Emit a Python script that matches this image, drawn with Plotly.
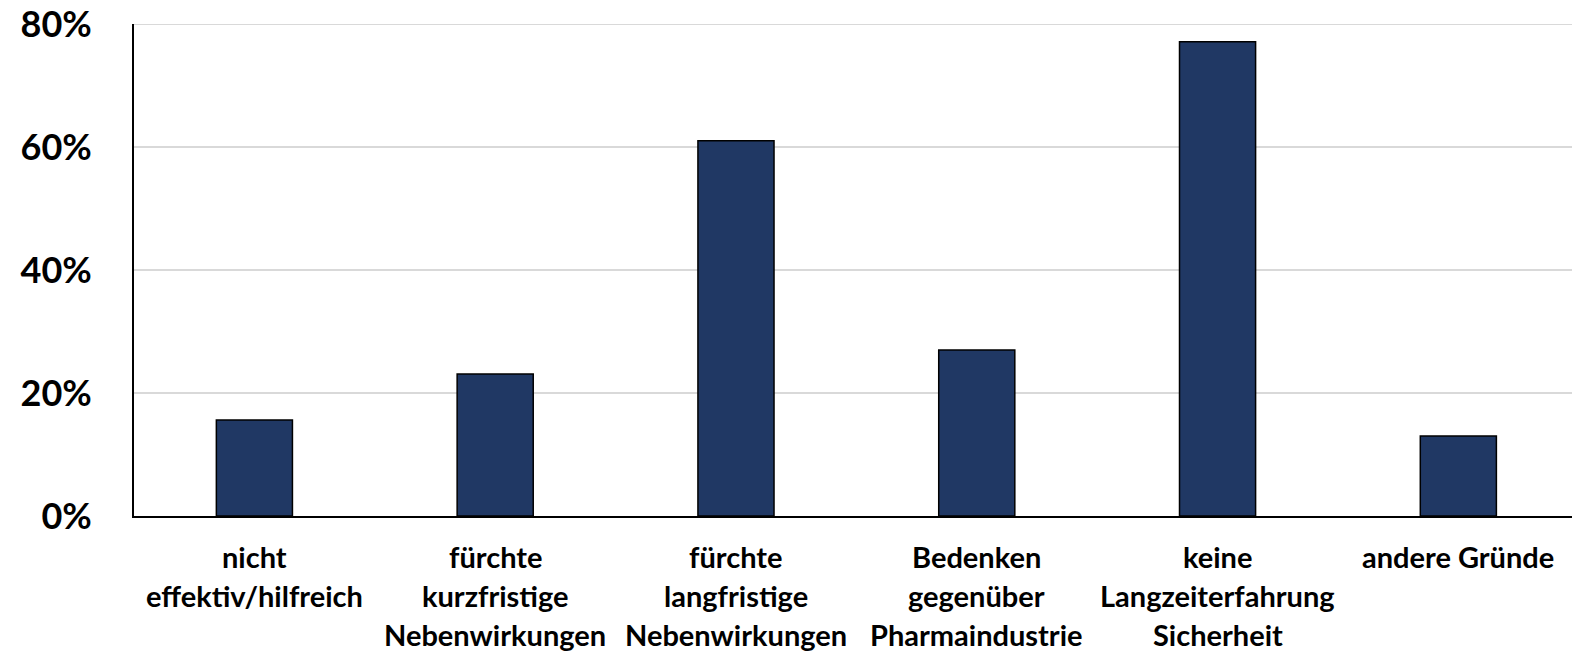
import plotly.graph_objects as go

categories = [
    "nicht<br>effektiv/hilfreich",
    "fürchte<br>kurzfristige<br>Nebenwirkungen",
    "fürchte<br>langfristige<br>Nebenwirkungen",
    "Bedenken<br>gegenüber<br>Pharmaindustrie",
    "keine<br>Langzeiterfahrung<br>Sicherheit",
    "andere Gründe",
]
values = [15.6, 23.1, 61.0, 27.0, 77.1, 13.0]
y_ticks = [0, 20, 40, 60, 80]
y_tick_labels = ["0%", "20%", "40%", "60%", "80%"]

FONT = "Lato"
GRID = "#d9d9d9"
xs = list(range(len(categories)))

fig = go.Figure()
fig.add_trace(go.Bar(
    x=xs, y=values, width=0.316,
    marker=dict(color="#203864", line=dict(color="black", width=1.5)),
    hoverinfo="skip",
))

for i, lab in enumerate(categories):
    for j, line in enumerate(lab.split("<br>")):
        fig.add_annotation(
            x=i, xref="x", y=0, yref="paper", text=line, showarrow=False,
            yanchor="middle", xanchor="center", yshift=-(40 + 39 * j),
            font=dict(family=FONT, size=29, color="black", weight="bold"),
        )

# top gridline (plotly omits the gridline on the plot edge)
fig.add_hline(y=y_ticks[-1], line=dict(color=GRID, width=2), layer="below")

fig.update_layout(
    width=1572, height=653,
    margin=dict(l=134, r=0, t=24, b=137),
    plot_bgcolor="white", paper_bgcolor="white",
    showlegend=False,
    font=dict(family=FONT, color="black"),
)
fig.update_xaxes(
    range=[-0.5, 5.472], showticklabels=False, showgrid=False,
    showline=True, linecolor="black", linewidth=2, ticks="", zeroline=False,
)
fig.update_yaxes(
    range=[0, 80], tickvals=y_ticks, ticktext=y_tick_labels,
    tickfont=dict(family=FONT, size=36, color="black", weight="bold"),
    showgrid=True, gridcolor=GRID, gridwidth=1.5,
    showline=True, linecolor="black", linewidth=2, zeroline=False,
    ticks="", ticklabelstandoff=33,
)

fig.write_html(
    "out.html",
    config={"displayModeBar": False},
    post_script="document.body.style.margin='0';document.body.style.overflow='hidden';",
)
